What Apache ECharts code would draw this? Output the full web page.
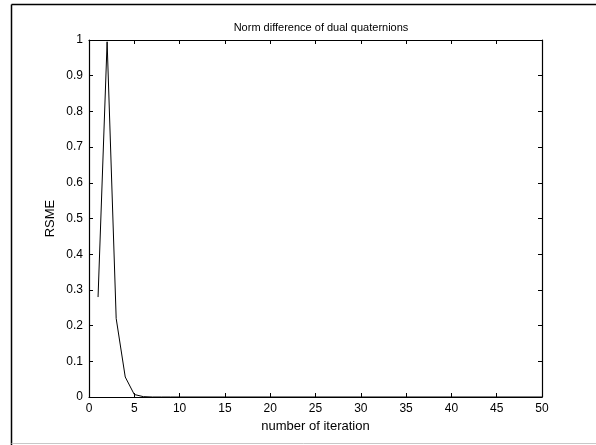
<!DOCTYPE html>
<html>
<head>
<meta charset="utf-8">
<script src="https://cdn.jsdelivr.net/npm/echarts@6/dist/echarts.min.js"></script>
<style>
  html, body { margin: 0; padding: 0; background: #fff; }
  #chart { width: 596px; height: 445px; }
</style>
</head>
<body>
<div id="chart"></div>
<script>
// iteration number and RSME
const iterations = [1, 2, 3, 4, 5, 6, 7, 8, 9, 10, 15, 20, 25, 30, 35, 40, 45, 50]
const rsme = [0.28, 0.995, 0.22, 0.056, 0.007, 0.001, 0, 0, 0, 0, 0, 0, 0, 0, 0, 0, 0, 0]

const titleText = 'Norm difference of dual quaternions'
const xName = 'number of iteration'
const yName = 'RSME'

const font = '"Liberation Sans", Arial, sans-serif'
const grid = { left: 89, right: 54, top: 40, bottom: 48 }

const chart = echarts.init(document.getElementById('chart'))

// matlab style box: ticks pointing inward on all four sides
const baseAxis = {
  type: 'value',
  axisLine: { show: true, onZero: false, lineStyle: { color: '#000', width: 1.2 } },
  axisTick: { show: true, inside: true, length: 4, lineStyle: { color: '#000' } },
  splitLine: { show: false },
}

chart.setOption({
  backgroundColor: '#fff',
  animation: false,
  title: {
    text: titleText,
    left: 316,
    top: 17,
    textAlign: 'center',
    textStyle: { fontFamily: font, fontSize: 11, fontWeight: 'normal', color: '#000' },
  },
  grid,
  xAxis: [
    {
      ...baseAxis,
      min: 0,
      max: 50,
      interval: 5,
      name: xName,
      nameLocation: 'middle',
      nameGap: 20,
      nameTextStyle: { fontFamily: font, fontSize: 13, color: '#000' },
      axisLabel: { fontFamily: font, fontSize: 12, color: '#000', margin: 6 },
    },
    {
      ...baseAxis,
      position: 'top',
      min: 0,
      max: 50,
      interval: 5,
      axisLabel: { show: false },
    },
  ],
  yAxis: [
    {
      ...baseAxis,
      min: 0,
      max: 1,
      interval: 0.1,
      name: yName,
      nameLocation: 'middle',
      nameGap: 32,
      nameMoveOverlap: false,
      nameTextStyle: { fontFamily: font, fontSize: 13, color: '#000' },
      axisLabel: { fontFamily: font, fontSize: 12, color: '#000', margin: 6 },
    },
    {
      ...baseAxis,
      position: 'right',
      min: 0,
      max: 1,
      interval: 0.1,
      axisLabel: { show: false },
    },
  ],
  graphic: [
    { type: 'line', shape: { x1: 11.5, y1: 4.5, x2: 11.5, y2: 445 }, style: { stroke: '#000', lineWidth: 1.5 } },
    { type: 'line', shape: { x1: 11.5, y1: 4.5, x2: 596, y2: 4.5 }, style: { stroke: '#000', lineWidth: 1.5 } },
    { type: 'line', shape: { x1: 11.5, y1: 443.5, x2: 596, y2: 443.5 }, style: { stroke: '#c8c8c8', lineWidth: 1 } },
  ],
  series: [
    {
      type: 'line',
      symbol: 'none',
      lineStyle: { color: '#000', width: 1 },
      data: iterations.map((it, i) => [it, rsme[i]]),
    },
  ],
})
</script>
</body>
</html>
